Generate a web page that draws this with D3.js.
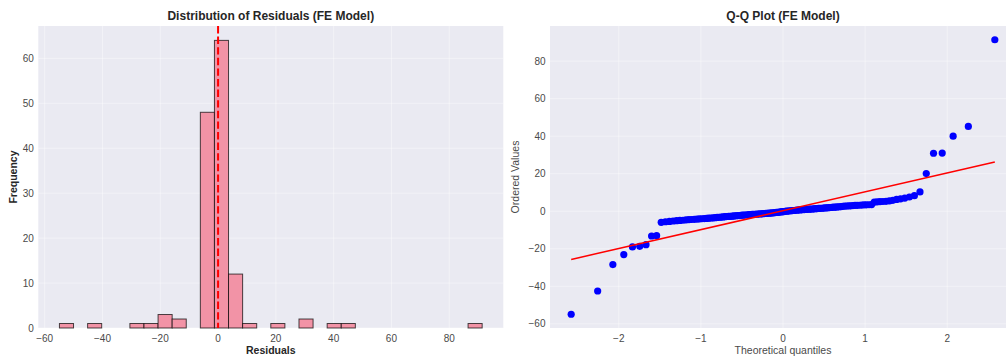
<!DOCTYPE html>
<html>
<head>
<meta charset="utf-8">
<script src="https://cdn.jsdelivr.net/npm/d3@7"></script>
<style>
  body { margin: 0; background: #fff; }
  svg { display: block; font-family: "Liberation Sans", Arial, sans-serif; }
</style>
</head>
<body>
<svg id="chart" width="1006" height="356"></svg>
<script>
const residuals = [
  -54.9, -42.5, -28.4, -23.1, -19.0, -18.7, -17.8, -13.2, -13.0,
  -5.9, -5.6, -5.4, -5.2, -5.0, -4.9, -4.8, -4.6, -4.5, -4.4, -4.3, -4.2,
  -4.1, -4.0, -3.9, -3.8, -3.7, -3.6, -3.5, -3.4, -3.3, -3.2, -3.1, -3.0,
  -2.9, -2.8, -2.75, -2.7, -2.6, -2.5, -2.4, -2.35, -2.3, -2.2, -2.1, -2.05,
  -2.0, -1.9, -1.85, -1.8, -1.7, -1.65, -1.6, -1.55, -1.5, -1.45, -1.38, -1.3,
  -1.2, -1.15, -1.1, -1.0, -0.95, -0.9, -0.8, -0.7, -0.65, -0.55, -0.45, -0.35,
  -0.25, -0.15, -0.05, 0.05, 0.1, 0.2, 0.25, 0.35, 0.4, 0.5, 0.55, 0.6,
  0.7, 0.75, 0.8, 0.9, 0.95, 1.0, 1.1, 1.15, 1.2, 1.3, 1.35, 1.4,
  1.5, 1.55, 1.6, 1.7, 1.8, 1.85, 1.9, 2.0, 2.1, 2.15, 2.2, 2.3,
  2.4, 2.5, 2.6, 2.7, 2.8, 2.85, 2.9, 3.0, 3.1, 3.15, 3.2, 3.3,
  3.35, 3.4, 3.45, 3.55,
  4.9, 5.0, 5.1, 5.2, 5.3, 5.5, 5.8, 6.3, 6.6, 7.0, 7.6, 8.3,
  10.3, 20.1, 30.9, 31.0, 40.0, 45.2, 91.4
];
const binCount = 30;
const histXTicks = [-60, -40, -20, 0, 20, 40, 60, 80];
const histYTicks = [0, 10, 20, 30, 40, 50, 60];
const qqXTicks = [-2, -1, 0, 1, 2];
const qqYTicks = [-60, -40, -20, 0, 20, 40, 60, 80];

const svg = d3.select("#chart");
const bg = "#EAEAF2";
const plotTop = 26, height = 302;
const fmt = v => String(v).replace("-", "\u2212");

// inverse normal cdf (Acklam)
function normInv(p) {
  const a = [-39.69683028665376, 220.9460984245205, -275.9285104469687, 138.3577518672690, -30.66479806614716, 2.506628277459239];
  const b = [-54.47609879822406, 161.5858368580409, -155.6989798598866, 66.80131188771972, -13.28068155288572];
  const c = [-0.007784894002430293, -0.3223964580411365, -2.400758277161838, -2.549732539343734, 4.374664141464968, 2.938163982698783];
  const d = [0.007784695709041462, 0.3224671290700398, 2.445134137142996, 3.754408661907416];
  const pl = 0.02425;
  if (p < pl) {
    const q = Math.sqrt(-2 * Math.log(p));
    return (((((c[0]*q+c[1])*q+c[2])*q+c[3])*q+c[4])*q+c[5]) / ((((d[0]*q+d[1])*q+d[2])*q+d[3])*q+1);
  }
  if (p > 1 - pl) {
    const q = Math.sqrt(-2 * Math.log(1 - p));
    return -(((((c[0]*q+c[1])*q+c[2])*q+c[3])*q+c[4])*q+c[5]) / ((((d[0]*q+d[1])*q+d[2])*q+d[3])*q+1);
  }
  const q = p - 0.5, r = q * q;
  return (((((a[0]*r+a[1])*r+a[2])*r+a[3])*r+a[4])*r+a[5])*q / (((((b[0]*r+b[1])*r+b[2])*r+b[3])*r+b[4])*r+1);
}

function panel(x0, w, title, xlabel, bold, xs, ys, xt, yt) {
  const g = svg.append("g").attr("transform", `translate(${x0},${plotTop})`);
  g.append("rect").attr("width", w).attr("height", height).attr("fill", bg);
  const grid = g.append("g").attr("stroke", "#fff").attr("stroke-width", 0.8).attr("stroke-opacity", 0.5);
  grid.selectAll(".gx").data(xt).enter().append("line")
    .attr("x1", d => xs(d)).attr("x2", d => xs(d)).attr("y1", 0).attr("y2", height);
  grid.selectAll(".gy").data(yt).enter().append("line")
    .attr("y1", d => ys(d)).attr("y2", d => ys(d)).attr("x1", 0).attr("x2", w);

  g.selectAll(".xt").data(xt).enter().append("text")
    .attr("x", d => xs(d)).attr("y", height + 13.5)
    .attr("text-anchor", "middle").attr("font-size", 10).attr("fill", "#4a4a4a")
    .text(fmt);
  g.selectAll(".yt").data(yt).enter().append("text")
    .attr("x", -4.5).attr("y", d => ys(d) + 3.5)
    .attr("text-anchor", "end").attr("font-size", 10).attr("fill", "#4a4a4a")
    .text(fmt);

  g.append("text").attr("x", w / 2).attr("y", -6.5)
    .attr("text-anchor", "middle").attr("font-size", 12).attr("font-weight", "bold")
    .attr("fill", "#262626").text(title);
  g.append("text").attr("x", w / 2).attr("y", height + 26)
    .attr("text-anchor", "middle").attr("font-size", 10.5)
    .attr("font-weight", bold ? "bold" : "normal")
    .attr("fill", bold ? "#262626" : "#4a4a4a").text(xlabel);
  return g;
}

// ---- histogram ----
const lo = d3.min(residuals), hi = d3.max(residuals);
const bw = (hi - lo) / binCount;
const bins = d3.bin()
  .domain([lo, hi])
  .thresholds(d3.range(1, binCount).map(k => lo + k * bw))(residuals);
const pad = (hi - lo) * 0.05;

const hW = 465;
const hx = d3.scaleLinear().domain([lo - pad, hi + pad]).range([0, hW]);
const hmax = d3.max(bins, b => b.length);
const hy = d3.scaleLinear().domain([0, hmax * 1.05]).range([height, 0]);
const hg = panel(38.3, hW, "Distribution of Residuals (FE Model)", "Residuals", true,
  hx, hy, histXTicks, histYTicks);

hg.append("text").attr("transform", `translate(-21,${height / 2}) rotate(-90)`)
  .attr("text-anchor", "middle").attr("font-size", 10.5).attr("font-weight", "bold")
  .attr("fill", "#262626").text("Frequency");

hg.selectAll(".bar").data(bins.filter(b => b.length > 0)).enter().append("rect")
  .attr("x", b => hx(b.x0)).attr("width", b => hx(b.x1) - hx(b.x0))
  .attr("y", b => hy(b.length)).attr("height", b => height - hy(b.length))
  .attr("fill", "#F293A6").attr("stroke", "#000").attr("stroke-opacity", 0.7).attr("stroke-width", 1);

hg.append("line").attr("x1", hx(0)).attr("x2", hx(0)).attr("y1", 0).attr("y2", height)
  .attr("stroke", "#FF0000").attr("stroke-width", 2).attr("stroke-dasharray", "7.4,3.2");

// ---- Q-Q plot ----
const n = residuals.length;
const mLast = Math.pow(0.5, 1 / n);
const osm = residuals.map((v, i) => {
  let p;
  if (i === 0) p = 1 - mLast;
  else if (i === n - 1) p = mLast;
  else p = (i + 1 - 0.3175) / (n + 0.365);
  return normInv(p);
});
const mz = d3.mean(osm), mv = d3.mean(residuals);
const slope = d3.sum(osm, (z, i) => (z - mz) * (residuals[i] - mv)) / d3.sum(osm, z => (z - mz) ** 2);
const icpt = mv - slope * mz;

const qW = 466;
const zlo = d3.min(osm), zhi = d3.max(osm), zpad = (zhi - zlo) * 0.05;
const qx = d3.scaleLinear().domain([zlo - zpad, zhi + zpad]).range([0, qW]);
const qy = d3.scaleLinear().domain([lo - pad, hi + pad]).range([height, 0]);
const qg = panel(550, qW, "Q-Q Plot (FE Model)", "Theoretical quantiles", false,
  qx, qy, qqXTicks, qqYTicks);

qg.append("text").attr("transform", `translate(-31,${height / 2}) rotate(-90)`)
  .attr("text-anchor", "middle").attr("font-size", 10.5)
  .attr("fill", "#4a4a4a").text("Ordered Values");

qg.selectAll(".pt").data(residuals).enter().append("circle")
  .attr("cx", (v, i) => qx(osm[i])).attr("cy", v => qy(v)).attr("r", 3.6)
  .attr("fill", "#0000FF");

qg.append("line")
  .attr("x1", qx(zlo)).attr("y1", qy(icpt + slope * zlo))
  .attr("x2", qx(zhi)).attr("y2", qy(icpt + slope * zhi))
  .attr("stroke", "#FF0000").attr("stroke-width", 1.5);
</script>
</body>
</html>
